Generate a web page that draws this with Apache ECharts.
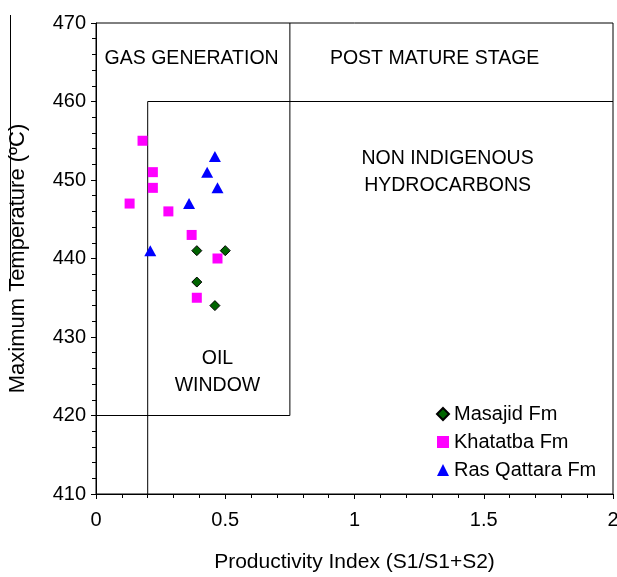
<!DOCTYPE html>
<html>
<head>
<meta charset="utf-8">
<script src="https://cdn.jsdelivr.net/npm/echarts@6/dist/echarts.min.js"></script>
<style>
  html, body { margin: 0; padding: 0; background: #fff; }
  #chart { width: 617px; height: 577px; }
</style>
</head>
<body>
<div id="chart"></div>
<script>
// productivity index / Tmax values
const masajid = [[0.39, 441], [0.50, 441], [0.39, 437], [0.46, 434]];
const khatatba = [[0.18, 455], [0.22, 451], [0.22, 449], [0.13, 447], [0.28, 446], [0.37, 443], [0.47, 440], [0.39, 435]];
const rasQattara = [[0.46, 453], [0.43, 451], [0.47, 449], [0.36, 447], [0.21, 441]];

// zone boundaries (data coords)
const oilWindowEdge = [[0.2, 410], [0.2, 460], [2, 460]];
const gasEdge = [[0, 420], [0.75, 420], [0.75, 470]];

// zone captions
const zoneLabels = [
    { name: 'GAS GENERATION', value: [0.37, 465.5] },
    { name: 'POST MATURE STAGE', value: [1.31, 465.5] },
    { name: 'NON INDIGENOUS\nHYDROCARBONS', value: [1.36, 451] },
    { name: 'OIL\nWINDOW', value: [0.47, 425.5] }
];

const FONT = 'Arial, "Liberation Sans", sans-serif';

let chart = echarts.init(document.getElementById('chart'));

function edgeSeries(data) {
    return {
        type: 'line',
        data: data,
        symbol: 'none',
        silent: true,
        z: 1,
        lineStyle: { color: '#000', width: 1 }
    };
}

chart.setOption({
    animation: false,
    textStyle: { fontFamily: FONT },
    grid: {
        left: 96, right: 4, top: 23, bottom: 83,
        outerBoundsMode: 'none',
        containLabel: false,
        show: true,
        borderColor: '#000',
        borderWidth: 1
    },
    // stray stroke beside the y title, as in the source figure
    graphic: [{
        type: 'line',
        silent: true,
        shape: { x1: 10.5, y1: 15, x2: 10.5, y2: 284 },
        style: { stroke: '#000', lineWidth: 1 }
    }],
    legend: {
        orient: 'vertical',
        left: 431,
        top: 399,
        itemWidth: 12,
        itemHeight: 12,
        itemGap: 8,
        textStyle: { fontSize: 20, color: '#000', fontFamily: FONT },
        data: [
            { name: 'Masajid Fm', icon: 'diamond' },
            { name: 'Khatatba Fm', icon: 'rect' },
            { name: 'Ras Qattara Fm', icon: 'triangle' }
        ]
    },
    xAxis: {
        type: 'value',
        min: 0, max: 2, interval: 0.5,
        name: 'Productivity Index (S1/S1+S2)',
        nameLocation: 'middle',
        nameGap: 58,
        nameTextStyle: { fontSize: 21, color: '#000' },
        axisLine: { show: true, lineStyle: { color: '#000' } },
        axisTick: { show: true, length: 5, lineStyle: { color: '#000' } },
        minorTick: { show: true, splitNumber: 5, length: 4, lineStyle: { color: '#000' } },
        axisLabel: { fontSize: 20, color: '#000', margin: 16 },
        splitLine: { show: false }
    },
    yAxis: {
        type: 'value',
        min: 410, max: 470, interval: 10,
        name: 'Maximum Temperature (ºC)',
        nameLocation: 'middle',
        nameGap: 67,
        nameTextStyle: { fontSize: 22, color: '#000' },
        axisLine: { show: true, lineStyle: { color: '#000' } },
        axisTick: { show: true, length: 5, lineStyle: { color: '#000' } },
        minorTick: { show: true, splitNumber: 5, length: 4, lineStyle: { color: '#000' } },
        axisLabel: { fontSize: 20, color: '#000', margin: 10 },
        splitLine: { show: false }
    },
    series: [
        edgeSeries(oilWindowEdge),
        edgeSeries(gasEdge),
        {
            type: 'scatter',
            silent: true,
            data: zoneLabels,
            symbolSize: 1,
            itemStyle: { color: 'rgba(0,0,0,0)', opacity: 1 },
            label: {
                show: true,
                position: 'inside',
                formatter: p => p.name,
                fontSize: 19.5,
                lineHeight: 27,
                color: '#000',
                textBorderWidth: 0,
                align: 'center'
            }
        },
        {
            name: 'Masajid Fm',
            type: 'scatter',
            data: masajid,
            symbol: 'diamond',
            symbolSize: 10,
            z: 3,
            itemStyle: { color: '#006400', borderColor: '#000', borderWidth: 1, opacity: 1 }
        },
        {
            name: 'Khatatba Fm',
            type: 'scatter',
            data: khatatba,
            symbol: 'rect',
            symbolSize: 10,
            z: 3,
            itemStyle: { color: '#ff00ff', opacity: 1 }
        },
        {
            name: 'Ras Qattara Fm',
            type: 'scatter',
            data: rasQattara,
            symbol: 'triangle',
            symbolSize: [12, 11],
            z: 3,
            itemStyle: { color: '#0000ff', opacity: 1 }
        }
    ]
});
</script>
</body>
</html>
